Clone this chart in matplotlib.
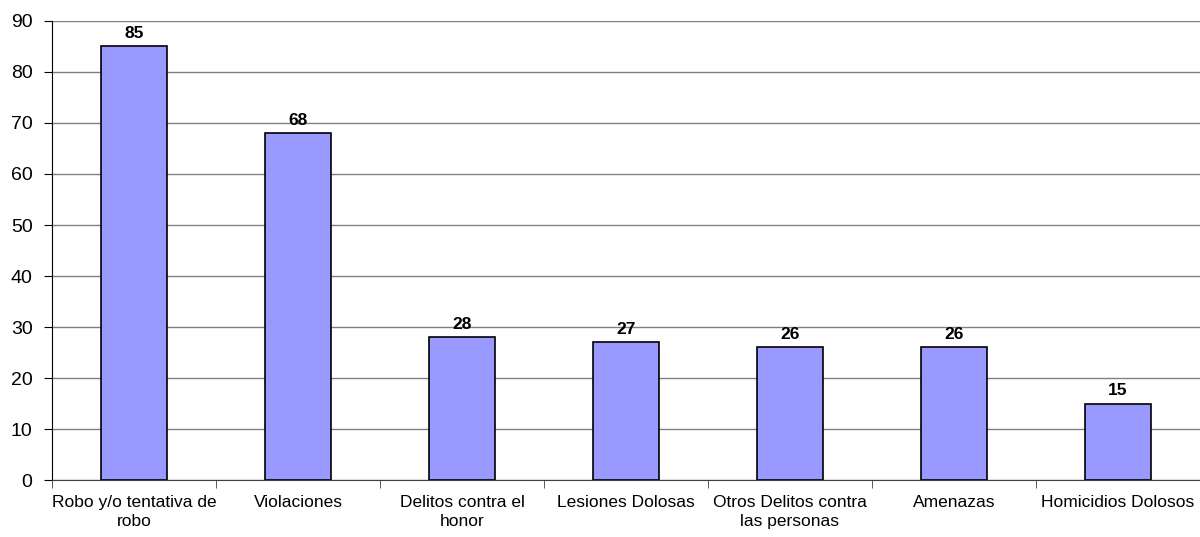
import numpy as np
import matplotlib
matplotlib.use('Agg')
import matplotlib.pyplot as plt

plt.rcParams['font.family'] = ['Liberation Sans', 'DejaVu Sans']

categories = ['Robo y/o tentativa de\nrobo', 'Violaciones', 'Delitos contra el\nhonor',
              'Lesiones Dolosas', 'Otros Delitos contra\nlas personas', 'Amenazas',
              'Homicidios Dolosos']
values = [85, 68, 28, 27, 26, 26, 15]

fig = plt.figure(figsize=(12, 5.37), dpi=100)
ax = fig.add_axes([0.0433, 0.106, 0.9567, 0.855])

x = np.arange(len(categories))
bars = ax.bar(x, values, width=0.4, color='#9999FF', edgecolor='black', linewidth=1.2, zorder=3)

for xi, v in zip(x, values):
    ax.annotate(str(v), (xi, v), xytext=(0, 4), textcoords='offset points',
                ha='center', va='bottom', fontsize=12.5, fontweight='bold')

ax.set_xlim(-0.5, len(categories) - 0.5)
ax.set_ylim(0, 90)
ax.set_yticks(range(0, 91, 10))
ax.yaxis.grid(True, color='#808080', linewidth=1, zorder=0)
ax.tick_params(axis='y', labelsize=14, length=6, direction='out', pad=8)

ax.set_xticks(x)
ax.set_xticklabels(categories, fontsize=12.5, linespacing=1.3)
ax.set_xticks(np.arange(-0.5, len(categories), 1.0), minor=True)
ax.tick_params(axis='x', which='major', length=0, pad=11)
ax.tick_params(axis='x', which='minor', length=6, color='#404040')

ax.spines['top'].set_visible(False)
ax.spines['right'].set_visible(False)
ax.spines['bottom'].set_color('#404040')

fig.savefig('out.png', dpi=100)
